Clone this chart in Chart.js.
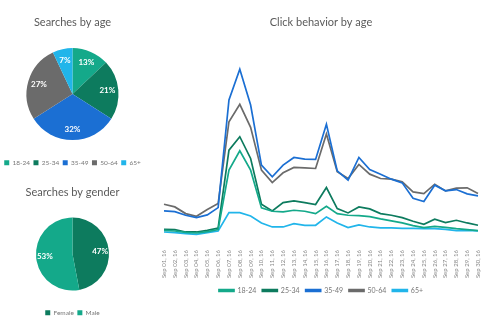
<!DOCTYPE html>
<html>
<head>
<meta charset="utf-8">
<script src="https://cdn.jsdelivr.net/npm/chart.js@4"></script>
<style>
    body { margin: 0; background: #fff; width: 500px; height: 330px; overflow: hidden; }
    .box { position: absolute; }
</style>
</head>
<body>
<div class="box" style="left:-13px;top:0;width:171px;height:176px"><canvas id="agePie"></canvas></div>
<div class="box" style="left:-13px;top:170px;width:171px;height:156px"><canvas id="genderPie"></canvas></div>
<div class="box" style="left:145px;top:0;width:355px;height:304px"><canvas id="clickLine"></canvas></div>
<script>
const ageGroups = ['18-24', '25-34', '35-49', '50-64', '65+'];
const ageShare = [13, 21, 32, 27, 7];

const genders = ['Female', 'Male'];
const genderShare = [47, 53];

const days = ['Sep 01, 16', 'Sep 02, 16', 'Sep 03, 16', 'Sep 04, 16', 'Sep 05, 16', 'Sep 06, 16',
    'Sep 07, 16', 'Sep 08, 16', 'Sep 09, 16', 'Sep 10, 16', 'Sep 11, 16', 'Sep 12, 16',
    'Sep 13, 16', 'Sep 14, 16', 'Sep 15, 16', 'Sep 16, 16', 'Sep 17, 16', 'Sep 18, 16',
    'Sep 19, 16', 'Sep 20, 16', 'Sep 21, 16', 'Sep 22, 16', 'Sep 23, 16', 'Sep 24, 16',
    'Sep 25, 16', 'Sep 26, 16', 'Sep 27, 16', 'Sep 28, 16', 'Sep 29, 16', 'Sep 30, 16'];

const clicks1824 = [7, 6.6, 5.8, 5.4, 6.2, 7.4, 43, 54.6, 43, 20.4, 18.4, 18, 19, 18.4, 17,
    21.4, 17, 16, 15.8, 15.2, 13.8, 12.6, 11.4, 9.8, 8.6, 9.4, 8.8, 8, 7.4, 6.8];
const clicks2534 = [7.6, 7.4, 6, 6, 7, 8.4, 55, 63, 50, 22.6, 18.6, 23.6, 24.6, 23.6, 22.4,
    32.6, 20, 17.4, 21, 19.8, 17, 16, 14.6, 12.4, 10.6, 13.6, 11.6, 13, 11.4, 10];
const clicks3549 = [18.6, 18.2, 16, 14.6, 16.2, 20.6, 85, 103.4, 82, 46, 39, 46, 50.6, 49.6, 49.4,
    70.4, 42.6, 37, 50.6, 43.4, 40.6, 37.6, 35.4, 26.2, 24.2, 34, 30.6, 31.4, 28.8, 27.6];
const clicks5064 = [22.6, 21, 17, 15.4, 19.4, 23, 72, 82.4, 68.6, 43, 35.6, 41.4, 44.6, 44.4, 44,
    64.6, 42, 38, 46.4, 40.6, 38, 37.6, 36, 30, 29, 34.6, 30.6, 32.2, 32.4, 29];
const clicks65 = [6, 5.6, 5, 4.6, 5.6, 6.6, 17.6, 17.6, 15.6, 11.4, 9, 9, 11, 10, 10,
    15, 11.4, 8.6, 10.2, 9, 8.4, 8.4, 8.2, 8.2, 8, 8, 7.6, 6.8, 7, 6.6];

const colors = ['#14a98a', '#0d7b5e', '#1b6fd3', '#6b6b6b', '#21b5ea'];
const fontFamily = 'Lato, "Open Sans", sans-serif';

Chart.defaults.font.family = fontFamily;
Chart.defaults.color = '#777';
Chart.defaults.animation = false;
Chart.defaults.plugins.tooltip.enabled = false;

// writes "NN%" on each slice, a bit past the middle of the radius
const sliceLabels = {
    id: 'sliceLabels',
    afterDatasetsDraw(chart) {
        const ctx = chart.ctx;
        const meta = chart.getDatasetMeta(0);
        const values = chart.data.datasets[0].data;
        ctx.save();
        ctx.fillStyle = '#fff';
        ctx.font = 'bold 8px ' + fontFamily;
        ctx.textAlign = 'center';
        ctx.textBaseline = 'middle';
        meta.data.forEach((arc, i) => {
            const p = arc.getProps(['x', 'y', 'startAngle', 'endAngle', 'outerRadius'], true);
            const mid = (p.startAngle + p.endAngle) / 2;
            const r = p.outerRadius * 0.76;
            ctx.fillText(values[i] + '%', p.x + Math.cos(mid) * r, p.y + Math.sin(mid) * r);
        });
        ctx.restore();
    }
};

function titleOptions(text) {
    return {
        display: true,
        text: text,
        color: '#5a5a5a',
        font: { size: 11, weight: 'normal' },
        padding: { top: 16, bottom: 3 }
    };
}

function pieChart(id, labels, values, sliceColors, title, radius) {
    new Chart(document.getElementById(id), {
        type: 'pie',
        data: {
            labels: labels,
            datasets: [{ data: values, backgroundColor: sliceColors, borderWidth: 0 }]
        },
        options: {
            responsive: true,
            maintainAspectRatio: false,
            radius: radius,
            plugins: {
                title: titleOptions(title),
                legend: {
                    position: 'bottom',
                    labels: { boxWidth: 5, boxHeight: 5, padding: 3.5, font: { size: 6.5 }, color: '#777' }
                }
            }
        },
        plugins: [sliceLabels]
    });
}

pieChart('agePie', ageGroups, ageShare, colors, 'Searches by age', 46);
pieChart('genderPie', genders, genderShare, [colors[1], colors[0]], 'Searches by gender', 36.5);

const series = [clicks1824, clicks2534, clicks3549, clicks5064, clicks65];

new Chart(document.getElementById('clickLine'), {
    type: 'line',
    data: {
        labels: days,
        datasets: series.map((values, i) => ({
            label: ageGroups[i],
            data: values,
            borderColor: colors[i],
            backgroundColor: colors[i],
            borderWidth: 1.7,
            pointRadius: 0,
            tension: 0
        }))
    },
    options: {
        responsive: true,
        maintainAspectRatio: false,
        layout: { padding: { left: 19, right: 22 } },
        scales: {
            x: {
                grid: { display: false },
                border: { display: false },
                ticks: { minRotation: 90, maxRotation: 90, autoSkip: false, font: { size: 6 }, color: '#888', padding: 0 },
                // keep the date band tight so the legend sits right under it
                afterFit: scale => { scale.height = 39; }
            },
            y: { display: false, min: 0, max: 110 }
        },
        plugins: {
            title: { ...titleOptions('Click behavior by age'), padding: { top: 16, bottom: 29 } },
            legend: {
                position: 'bottom',
                labels: { boxWidth: 15, boxHeight: 2, padding: 6, font: { size: 7 }, color: '#777' }
            }
        }
    }
});
</script>
</body>
</html>
